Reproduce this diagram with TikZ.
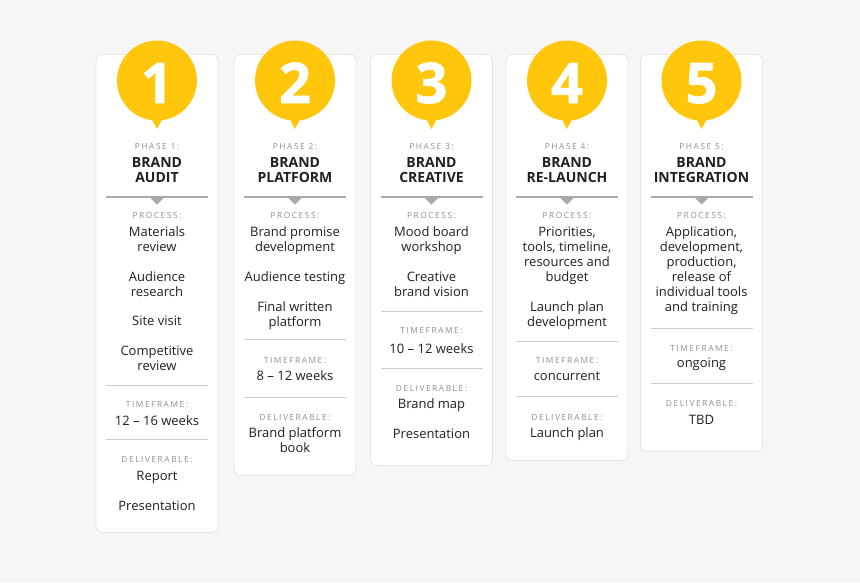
\documentclass[tikz,border=0pt]{standalone}
\usepackage{fontspec}
\setmainfont{Open Sans}
\newfontfamily\labelfont[LetterSpace=18]{Open Sans}
\newfontfamily\digitfont[FakeBold=1.2]{Open Sans}
\usetikzlibrary{positioning}

\definecolor{page}{HTML}{F6F6F6}
\definecolor{sun}{HTML}{FFC60B}
\definecolor{ink}{HTML}{231F20}
\definecolor{muted}{HTML}{8E9093}
\definecolor{rule}{HTML}{A7A9AC}
\definecolor{hair}{HTML}{CBCCCE}
\definecolor{edge}{HTML}{E4E4E4}

\begin{document}
\begin{tikzpicture}[x=1pt, y=-1pt,
    card/.style={draw=edge, fill=white, rounded corners=6pt, line width=0.8pt,
      minimum width=122pt, anchor=north, inner sep=0pt},
    bubble/.style={circle, fill=sun, minimum size=80pt, inner sep=0pt},
    digit/.style={anchor=base, text=white, inner sep=0pt,
      font=\digitfont\fontsize{56}{56}\selectfont\bfseries},
    tag/.style={anchor=base, text=muted, inner sep=0pt,
      font=\labelfont\fontsize{8.4}{10}\selectfont},
    % multi-line nodes sit on the baseline of their last line
    title/.style={anchor=base, text=ink, align=center, inner sep=0pt,
      font=\fontsize{14}{15}\selectfont\bfseries},
    item/.style={anchor=base, text=ink, align=center, inner sep=0pt,
      font=\fontsize{13}{15}\selectfont},
    hairline/.style={draw=hair, line width=1pt}]

  \useasboundingbox (0,0) rectangle (860,582);
  \fill[page] (0,0) rectangle (860,582);

  % cards
  \node[card, minimum height=478pt] (k1) at (157,54) {};
  \node[card, minimum height=421pt] (k2) at (295,54) {};
  \node[card, minimum height=411pt] (k3) at (431.5,54) {};
  \node[card, minimum height=406pt] (k4) at (567,54) {};
  \node[card, minimum height=397pt] (k5) at (701.5,54) {};

  % heads
  \foreach \i/\x/\name in {1/157/{BRAND\\AUDIT}, 2/295/{BRAND\\PLATFORM},
      3/431.5/{BRAND\\CREATIVE}, 4/567/{BRAND\\RE-LAUNCH},
      5/701.5/{BRAND\\INTEGRATION}} {
    \fill[sun] ({\x-9},112) -- ({\x+9},112) -- (\x,129) -- cycle;
    \node[bubble] (c\i) at (\x,80.5) {};
    \node[digit] (n\i) at (\x,103) {\i};
    \node[tag] (h\i) at (\x,149) {PHASE \i:};
    \node[title] (t\i) at (\x,182) {\name};
    \draw[rule, line width=2pt] ({\x-51},197) -- ({\x+51},197);
    \fill[rule] ({\x-7.5},197) -- ({\x+7.5},197) -- (\x,204.5) -- cycle;
    \node[tag] (pr\i) at (\x,218) {PROCESS:};
  }

  % phase 1
  \node[item] (i1a) at (157,251) {Materials\\review};
  \node[item] (i1b) at (157,296) {Audience\\research};
  \node[item] (i1c) at (157,325) {Site visit};
  \node[item] (i1d) at (157,370) {Competitive\\review};
  \draw[hairline] (106,385) -- (208,385);
  \node[tag] (tf1) at (157,407) {TIMEFRAME:};
  \node[item] (w1) at (157,425) {12 – 16 weeks};
  \draw[hairline] (106,439) -- (208,439);
  \node[tag] (dl1) at (157,462) {DELIVERABLE:};
  \node[item] (d1a) at (157,480) {Report};
  \node[item] (d1b) at (157,510) {Presentation};

  % phase 2
  \node[item] (i2a) at (295,251) {Brand promise\\development};
  \node[item] (i2b) at (295,281) {Audience testing};
  \node[item] (i2c) at (295,326) {Final written\\platform};
  \draw[hairline] (244,339) -- (346,339);
  \node[tag] (tf2) at (295,363) {TIMEFRAME:};
  \node[item] (w2) at (295,380) {8 – 12 weeks};
  \draw[hairline] (244,397) -- (346,397);
  \node[tag] (dl2) at (295,420) {DELIVERABLE:};
  \node[item] (d2a) at (295,452) {Brand platform\\book};

  % phase 3
  \node[item] (i3a) at (431.5,251) {Mood board\\workshop};
  \node[item] (i3b) at (431.5,296) {Creative\\brand vision};
  \draw[hairline] (380.5,311) -- (482.5,311);
  \node[tag] (tf3) at (431.5,333) {TIMEFRAME:};
  \node[item] (w3) at (431.5,353) {10 – 12 weeks};
  \draw[hairline] (380.5,368) -- (482.5,368);
  \node[tag] (dl3) at (431.5,391) {DELIVERABLE:};
  \node[item] (d3a) at (431.5,408) {Brand map};
  \node[item] (d3b) at (431.5,438) {Presentation};

  % phase 4
  \node[item] (i4a) at (567,281) {Priorities,\\tools, timeline,\\resources and\\budget};
  \node[item] (i4b) at (567,326) {Launch plan\\development};
  \draw[hairline] (516,341) -- (618,341);
  \node[tag] (tf4) at (567,363) {TIMEFRAME:};
  \node[item] (w4) at (567,380) {concurrent};
  \draw[hairline] (516,396) -- (618,396);
  \node[tag] (dl4) at (567,420) {DELIVERABLE:};
  \node[item] (d4a) at (567,437) {Launch plan};

  % phase 5
  \node[item] (i5a) at (701.5,311) {Application,\\development,\\production,\\release of\\individual tools\\and training};
  \draw[hairline] (650.5,328) -- (752.5,328);
  \node[tag] (tf5) at (701.5,351) {TIMEFRAME:};
  \node[item] (w5) at (701.5,367) {ongoing};
  \draw[hairline] (650.5,383) -- (752.5,383);
  \node[tag] (dl5) at (701.5,406) {DELIVERABLE:};
  \node[item] (d5a) at (701.5,424) {TBD};
\end{tikzpicture}
\end{document}
